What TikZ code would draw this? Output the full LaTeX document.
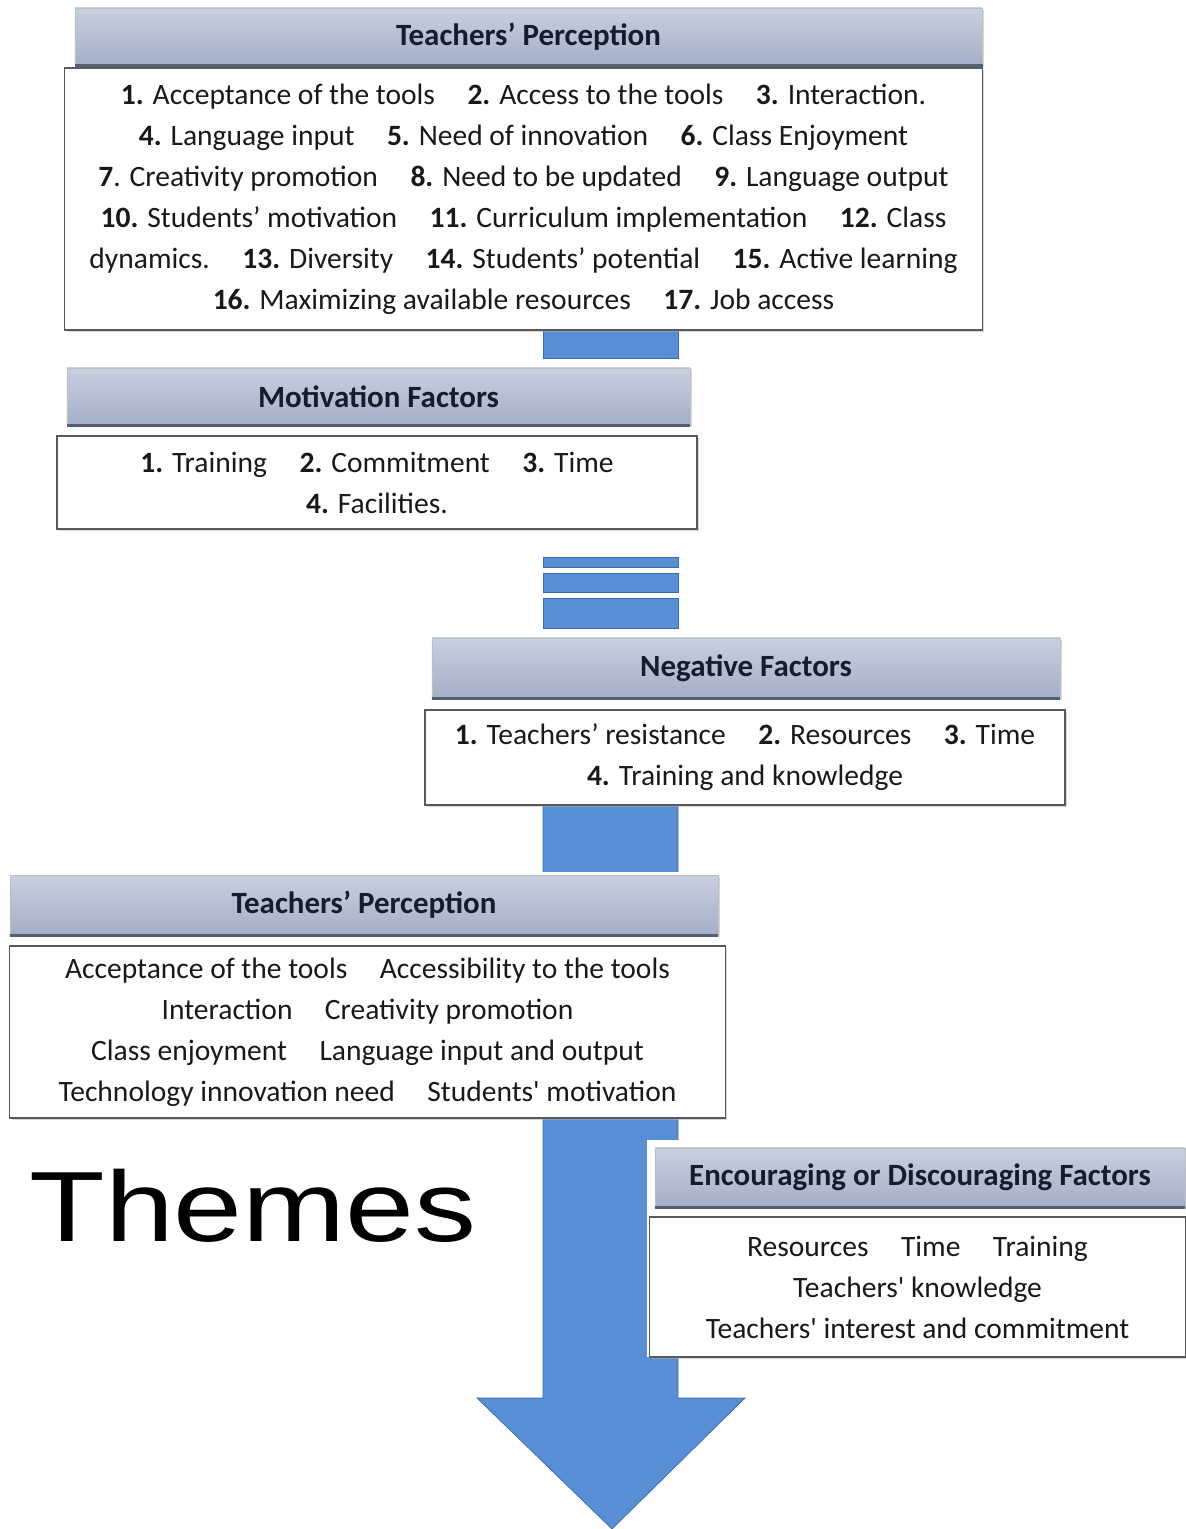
\documentclass[tikz,border=0pt]{standalone}
\usepackage{fontspec}
\setmainfont{Carlito}
\newfontfamily\themefont{Liberation Sans}
\usetikzlibrary{positioning,shadows}
\definecolor{arrowBlue}{RGB}{88,142,212}
\definecolor{arrowEdge}{RGB}{62,108,170}
\definecolor{hdrTop}{RGB}{200,208,224}
\definecolor{hdrBot}{RGB}{163,175,200}
\definecolor{hdrEdge}{RGB}{84,94,116}
\definecolor{hdrText}{RGB}{20,28,46}
\newcommand{\itm}[1]{\textbf{#1.} }
\newcommand{\gp}{\hspace{1.1em}}
\newcommand{\sq}{\textquotesingle}

\begin{document}
\begin{tikzpicture}[x=0.025cm, y=-0.025cm,
  header/.style={top color=hdrTop, bottom color=hdrBot, draw=gray!50, inner sep=0pt,
    font=\fontsize{22}{26}\selectfont\bfseries, text=hdrText,
    drop shadow={shadow xshift=1.5pt, shadow yshift=-1.5pt, fill=black!30}},
  itembox/.style={fill=white, draw=black!65, line width=0.9pt, inner sep=0pt, align=center,
    font=\fontsize{21}{29.2}\selectfont, text=black!90,
    drop shadow={shadow xshift=1.5pt, shadow yshift=-1.5pt, fill=black!30}},
  hdredge/.style={hdrEdge, line width=2.2pt},
  backing/.style={fill=white},
  shaft/.style={fill=arrowBlue, draw=arrowEdge, line width=0.5pt}]
  \useasboundingbox (0,0) rectangle (1185,1529);

  % Arrow
  \filldraw[shaft] (543,330) rectangle (678,358);
  \filldraw[shaft] (543,557) rectangle (678,567);
  \filldraw[shaft] (543,573) rectangle (678,592);
  \filldraw[shaft] (543,598) rectangle (678,628);
  \filldraw[shaft] (543,712) -- (678,712) -- (678,1398) -- (745,1398) -- (612,1529)
    -- (477,1398) -- (543,1398) -- cycle;

  % white panels behind the groups
  \fill[backing] (8,872) rectangle (727,1119);
  \fill[backing] (647,1140) rectangle (1185,1357);

  % Teachers' perception
  \node[header, minimum width=22.68cm, minimum height=1.43cm] (tp1) at (528.5,36.5) {Teachers’ Perception};
  \draw[hdredge] (tp1.south west) -- (tp1.south east);
  \node[itembox, minimum width=22.93cm, minimum height=6.55cm] (tp1list) at (523.5,199) {%
    \itm{1}Acceptance of the tools\gp\itm{2}Access to the tools\gp\itm{3}Interaction.\\
    \itm{4}Language input\gp\itm{5}Need of innovation\gp\itm{6}Class Enjoyment\\
    \textbf{7}. Creativity promotion\gp\itm{8}Need to be updated\gp\itm{9}Language output\\
    \itm{10}Students’ motivation\gp\itm{11}Curriculum implementation\gp\itm{12}Class\\
    dynamics.\gp\itm{13}Diversity\gp\itm{14}Students’ potential\gp\itm{15}Active learning\\
    \itm{16}Maximizing available resources\gp\itm{17}Job access};

  % Motivation factors
  \node[header, minimum width=15.58cm, minimum height=1.43cm] (mot) at (378.5,396.5) {Motivation Factors};
  \draw[hdredge] (mot.south west) -- (mot.south east);
  \node[itembox, minimum width=16cm, minimum height=2.33cm] (motlist) at (377,482.5) {%
    \itm{1}Training\gp\itm{2}Commitment\gp\itm{3}Time\\
    \itm{4}Facilities.};

  % Negative factors
  \node[header, minimum width=15.7cm, minimum height=1.5cm] (neg) at (746,668) {Negative Factors};
  \draw[hdredge] (neg.south west) -- (neg.south east);
  \node[itembox, minimum width=16cm, minimum height=2.38cm] (neglist) at (745,757.5) {%
    \itm{1}Teachers’ resistance\gp\itm{2}Resources\gp\itm{3}Time\\
    \itm{4}Training and knowledge};

  % Teachers' perception (themes)
  \node[header, minimum width=17.7cm, minimum height=1.5cm] (tp2) at (364,905) {Teachers’ Perception};
  \draw[hdredge] (tp2.south west) -- (tp2.south east);
  \node[itembox, minimum width=17.88cm, minimum height=4.3cm] (tp2list) at (367.5,1032) {%
    Acceptance of the tools\gp Accessibility to the tools\\
    Interaction\gp Creativity promotion\\
    Class enjoyment\gp Language input and output\\
    Technology innovation need\gp Students\sq\ motivation};

  % Encouraging or discouraging factors
  \node[header, minimum width=13.25cm, minimum height=1.48cm] (enc) at (920,1177.5) {Encouraging or Discouraging Factors};
  \draw[hdredge] (enc.south west) -- (enc.south east);
  \node[itembox, minimum width=13.38cm, minimum height=3.5cm] (enclist) at (917.5,1287) {%
    Resources\gp Time\gp Training\\
    Teachers\sq\ knowledge\\
    Teachers\sq\ interest and commitment};

  \node[font=\themefont\fontsize{71}{71}\selectfont, xscale=1.24] (themes) at (253,1206) {Themes};
\end{tikzpicture}
\end{document}
